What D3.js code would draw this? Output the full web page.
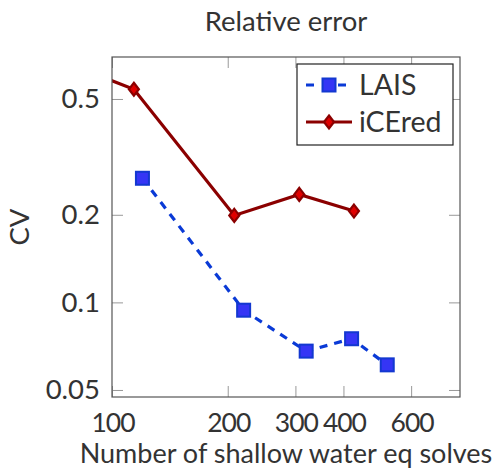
<!DOCTYPE html>
<html>
<head>
<meta charset="utf-8">
<script src="https://cdn.jsdelivr.net/npm/d3@7"></script>
<style>
  html, body { margin: 0; padding: 0; background: #fff; }
  svg { display: block; }
  text { font-family: "Lato", "Liberation Sans", sans-serif; fill: #333; }
</style>
</head>
<body>
<svg id="chart" width="500" height="470"></svg>
<script>
// Number of shallow water equation solves per method
const laisSolves   = [120, 220, 320, 420, 520];
const laisCV       = [0.267, 0.094, 0.068, 0.075, 0.061];
const iceredSolves = [60, 114, 208, 307, 426];
const iceredCV     = [0.75, 0.54, 0.199, 0.235, 0.206];

const xTicks = [100, 200, 300, 400, 600];
const yTicks = [0.05, 0.1, 0.2, 0.5];
const seriesNames = ["LAIS", "iCEred"];

const plot = { left: 112, right: 460, top: 57, bottom: 397 };
const FS = 27.5;

const svg = d3.select("#chart");

const x = d3.scaleLog().domain([100, 804]).range([plot.left, plot.right]);
const y = d3.scaleLog().domain([0.0473, 0.697]).range([plot.bottom, plot.top]);

// clip region for the data
svg.append("defs").append("clipPath").attr("id", "plotClip")
  .append("rect")
  .attr("x", plot.left).attr("y", plot.top)
  .attr("width", plot.right - plot.left).attr("height", plot.bottom - plot.top);

// tick marks on all four sides, pointing inwards
const tickLen = 11;
const tickColor = "#999";
const axes = svg.append("g");
const fmt = d => String(d);

axes.append("g")
  .attr("transform", `translate(0,${plot.bottom})`)
  .call(d3.axisBottom(x).tickValues(xTicks).tickFormat(fmt).tickSizeInner(-tickLen).tickSizeOuter(0).tickPadding(16))
  .call(g => g.select(".domain").remove())
  .call(g => g.selectAll(".tick line").attr("stroke", tickColor))
  .call(g => g.selectAll(".tick text").attr("font-size", 26.5).attr("letter-spacing", "-1px")
    .attr("dx", "0.5px").attr("font-family", null).attr("fill", "#333"));

axes.append("g")
  .attr("transform", `translate(0,${plot.top})`)
  .call(d3.axisTop(x).tickValues(xTicks).tickFormat("").tickSizeInner(-tickLen).tickSizeOuter(0))
  .call(g => g.select(".domain").remove())
  .call(g => g.selectAll(".tick line").attr("stroke", tickColor));

axes.append("g")
  .attr("transform", `translate(${plot.left},0)`)
  .call(d3.axisLeft(y).tickValues(yTicks).tickFormat(fmt).tickSizeInner(-tickLen).tickSizeOuter(0).tickPadding(12))
  .call(g => g.select(".domain").remove())
  .call(g => g.selectAll(".tick line").attr("stroke", tickColor))
  .call(g => g.selectAll(".tick text").attr("font-size", FS).attr("font-family", null).attr("fill", "#333"));

axes.append("g")
  .attr("transform", `translate(${plot.right},0)`)
  .call(d3.axisRight(y).tickValues(yTicks).tickFormat("").tickSizeInner(-tickLen).tickSizeOuter(0))
  .call(g => g.select(".domain").remove())
  .call(g => g.selectAll(".tick line").attr("stroke", tickColor));

// data
const dataG = svg.append("g").attr("clip-path", "url(#plotClip)");
const line = d3.line().x(d => x(d[0])).y(d => y(d[1]));

const lais = d3.zip(laisSolves, laisCV);
const ice = d3.zip(iceredSolves, iceredCV);

dataG.append("path").datum(lais)
  .attr("d", line).attr("fill", "none")
  .attr("stroke", "#0a3ad6").attr("stroke-width", 3.2)
  .attr("stroke-dasharray", "8,7");

dataG.append("path").datum(ice)
  .attr("d", line).attr("fill", "none")
  .attr("stroke", "#8b0000").attr("stroke-width", 3.2);

const sq = 13;
dataG.selectAll(".sq").data(lais).join("rect")
  .attr("x", d => x(d[0]) - sq / 2).attr("y", d => y(d[1]) - sq / 2)
  .attr("width", sq).attr("height", sq)
  .attr("fill", "#3535f5").attr("stroke", "#1338d0").attr("stroke-width", 2);

const diamond = (cx, cy) => `M${cx},${cy - 6.5}L${cx + 5},${cy}L${cx},${cy + 6.5}L${cx - 5},${cy}Z`;
dataG.selectAll(".dm").data(ice).join("path")
  .attr("d", d => diamond(x(d[0]), y(d[1])))
  .attr("fill", "#e00000").attr("stroke", "#8b0000").attr("stroke-width", 2.2);

// frame
svg.append("rect")
  .attr("x", plot.left).attr("y", plot.top)
  .attr("width", plot.right - plot.left).attr("height", plot.bottom - plot.top)
  .attr("fill", "none").attr("stroke", "#555").attr("stroke-width", 1.2);

// legend
const lg = svg.append("g");
lg.append("rect").attr("x", 297).attr("y", 64).attr("width", 156).attr("height", 81)
  .attr("fill", "#fff").attr("stroke", "#222").attr("stroke-width", 1.2);

const rowY = [85, 122];
lg.append("line").attr("x1", 306).attr("x2", 346).attr("y1", rowY[0]).attr("y2", rowY[0])
  .attr("stroke", "#0a3ad6").attr("stroke-width", 3.2).attr("stroke-dasharray", "8,24");
lg.append("rect").attr("x", 329 - sq / 2).attr("y", rowY[0] - sq / 2).attr("width", sq).attr("height", sq)
  .attr("fill", "#3535f5").attr("stroke", "#1338d0").attr("stroke-width", 2);
lg.append("line").attr("x1", 306).attr("x2", 352).attr("y1", rowY[1]).attr("y2", rowY[1])
  .attr("stroke", "#8b0000").attr("stroke-width", 3.2);
lg.append("path").attr("d", diamond(329, rowY[1]))
  .attr("fill", "#e00000").attr("stroke", "#8b0000").attr("stroke-width", 2.2);

lg.selectAll(".lt").data(seriesNames).join("text")
  .attr("x", 359).attr("y", (d, i) => rowY[i]).attr("dy", "0.36em")
  .attr("font-size", 28.5).text(d => d);

// titles
svg.append("text").attr("x", (plot.left + plot.right) / 2).attr("y", 31)
  .attr("text-anchor", "middle").attr("font-size", FS).text("Relative error");
svg.append("text").attr("x", (plot.left + plot.right) / 2).attr("y", 463)
  .attr("text-anchor", "middle").attr("font-size", 27).text("Number of shallow water eq solves");
svg.append("text").attr("transform", `translate(29,${(plot.top + plot.bottom) / 2}) rotate(-90)`)
  .attr("text-anchor", "middle").attr("font-size", FS).text("CV");
</script>
</body>
</html>
